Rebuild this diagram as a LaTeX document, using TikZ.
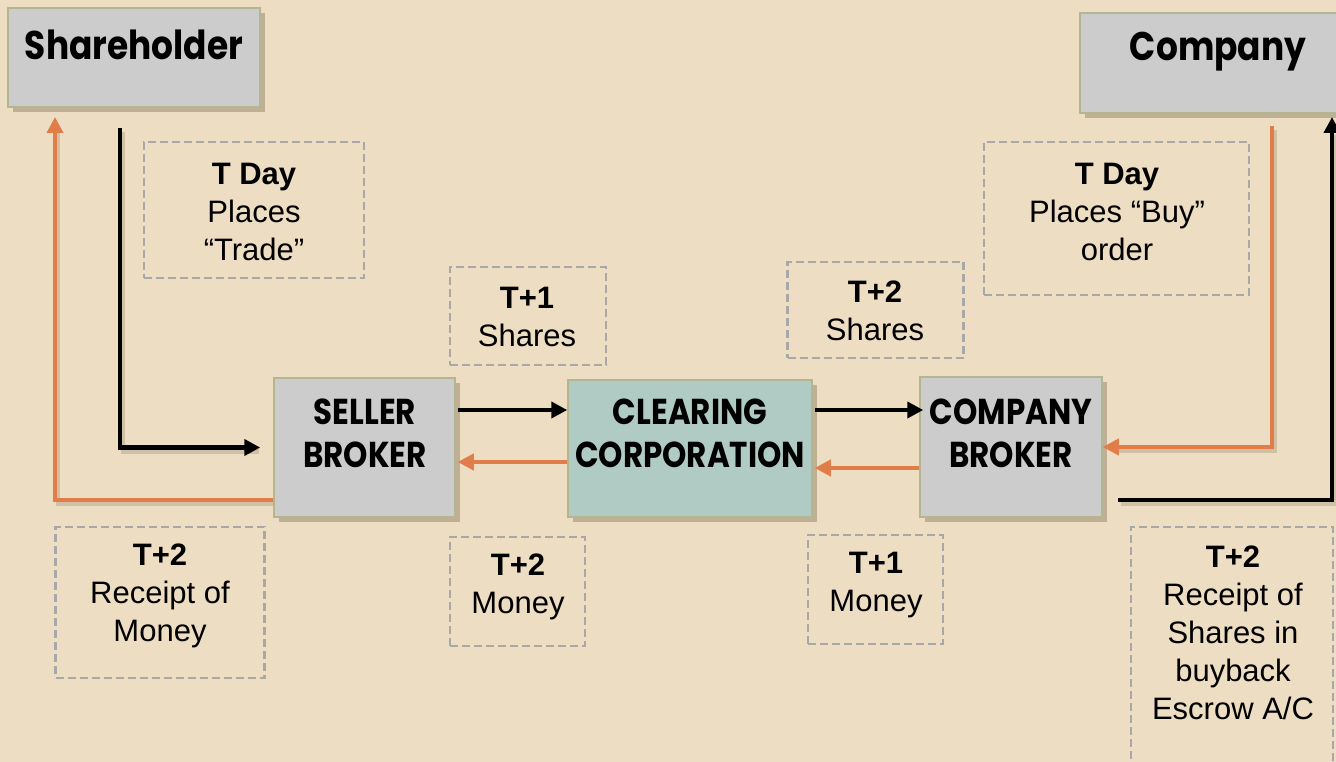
\documentclass[tikz,border=0pt]{standalone}
\usepackage{fontspec}
\setmainfont{Liberation Sans}
\newfontfamily\boxfont[FakeStretch=0.86]{Poppins}
\usetikzlibrary{arrows.meta,shadows,calc}
\definecolor{bgc}{HTML}{EDDDC2}
\definecolor{boxgray}{HTML}{CCCCCC}
\definecolor{boxteal}{HTML}{B0CBC3}
\definecolor{boxedge}{HTML}{B3B68E}
\definecolor{orangeline}{HTML}{E07D48}
\definecolor{dashgray}{HTML}{A8A8A8}
\definecolor{shadowc}{HTML}{7A6A50}
\begin{document}
\begin{tikzpicture}[x=1pt,y=-1pt,
  mainbox/.style={draw=boxedge, line width=1.5pt, fill=boxgray, inner sep=0pt,
    drop shadow={shadow xshift=5pt, shadow yshift=-5pt, fill=shadowc, opacity=0.4}},
  boxtext/.style={font=\boxfont\bfseries\fontsize{36}{43}\selectfont, align=center, inner sep=0pt},
  bigtext/.style={font=\boxfont\bfseries\fontsize{40}{48}\selectfont, inner sep=0pt},
  dbox/.style={draw=dashgray, line width=2.6pt, dash pattern=on 8pt off 4pt, inner sep=0pt},
  lbl/.style={font=\fontsize{31}{38}\selectfont, align=center, inner sep=0pt},
  blk/.style={draw=black, line width=4.6pt, -{Triangle[length=16pt,width=16pt]}},
  org/.style={draw=orangeline, line width=3.8pt, -{Triangle[length=16pt,width=16pt]}},
  shd/.style={draw=shadowc, opacity=0.25, line width=4.6pt}
]
\useasboundingbox (0,0) rectangle (1336,762);
\fill[bgc] (0,0) rectangle (1336,762);

% main boxes
\node[mainbox, minimum width=252pt, minimum height=99pt] (sh) at (134,57.5) {};
\node[mainbox, minimum width=270pt, minimum height=100pt] (co) at (1215,63) {};
\node[mainbox, minimum width=181pt, minimum height=139pt] (sb) at (364.5,447.5) {};
\node[mainbox, fill=boxteal, minimum width=244pt, minimum height=137pt] (cc) at (690,448.5) {};
\node[mainbox, minimum width=182pt, minimum height=140pt] (cb) at (1011,447) {};

\node[bigtext] (tsh) at (134,45) {Shareholder};
\node[bigtext] (tco) at (1218,52) {Company};
\node[boxtext] (tsb) at (365,433) {SELLER\\BROKER};
\node[boxtext] (tcc) at (690,433) {CLEARING\\CORPORATION};
\node[boxtext] (tcb) at (1011,433) {COMPANY\\BROKER};

% dashed boxes
\node[dbox, minimum width=220pt, minimum height=136pt] (d1) at (254,210) {};
\node[dbox, minimum width=156pt, minimum height=98pt] (d2) at (528,316) {};
\node[dbox, minimum width=176pt, minimum height=96pt] (d3) at (875.5,310) {};
\node[dbox, minimum width=265pt, minimum height=153pt] (d4) at (1116.5,218.5) {};
\node[dbox, minimum width=209pt, minimum height=151pt] (d5) at (160,602.5) {};
\node[dbox, minimum width=135pt, minimum height=109pt] (d6) at (517.5,591.5) {};
\node[dbox, minimum width=135pt, minimum height=109pt] (d7) at (875.5,589.5) {};
\node[dbox, minimum width=202pt, minimum height=260pt] (d8) at (1232,657) {};

\node[lbl] (l1) at (254,212) {\textbf{T Day}\\Places\\“Trade”};
\node[lbl] (l2) at (527,317) {\textbf{T+1}\\Shares};
\node[lbl] (l3) at (875,311) {\textbf{T+2}\\Shares};
\node[lbl] (l4) at (1117,212) {\textbf{T Day}\\Places “Buy”\\order};
\node[lbl] (l5) at (160,596) {\textbf{T+2}\\Receipt of\\Money};
\node[lbl] (l6) at (518,587) {\textbf{T+2}\\Money};
\node[lbl] (l7) at (876,585) {\textbf{T+1}\\Money};
\node[lbl] (l8) at (1233,633) {\textbf{T+2}\\Receipt of\\Shares in\\buyback\\Escrow A/C};

% connectors
\coordinate (s1) at (120,128);
\coordinate (s2) at (1272,126);
\coordinate (s3) at (1118,500);
\coordinate (shx) at (55,107);
\coordinate (cox) at (1332,113);

% shadows of connectors
\draw[shd] ($(s1)+(3,4)$) |- ($(sb.west)+(-14,4)$);
\draw[shd] ($(sb.west|-0,500)+(0,4)$) -| ($(shx)+(3,22)$);
\draw[shd] ($(s2)+(3,4)$) |- ($(cb.east)+(12,4)$);
\draw[shd] ($(s3)+(3,4)$) -| ($(cox)+(3,22)$);

\draw[blk, shorten >=13pt] (s1) |- (sb.west);
\draw[org, shorten >=10pt] (sb.west|-0,500) -| (shx);
\draw[blk, shorten <=2pt] (sb.east|-0,410) -- (cc.west|-0,410);
\draw[org, shorten >=2pt] (cc.west|-0,462) -- (sb.east|-0,462);
\draw[blk, shorten <=2pt, shorten >=-4pt] (cc.east|-0,410) -- (cb.west|-0,410);
\draw[org, shorten >=2pt] (cb.west|-0,468) -- (cc.east|-0,468);
\draw[org] (s2) |- (cb.east);
\draw[blk, shorten >=4pt] (s3) -| (cox);
\end{tikzpicture}
\end{document}
